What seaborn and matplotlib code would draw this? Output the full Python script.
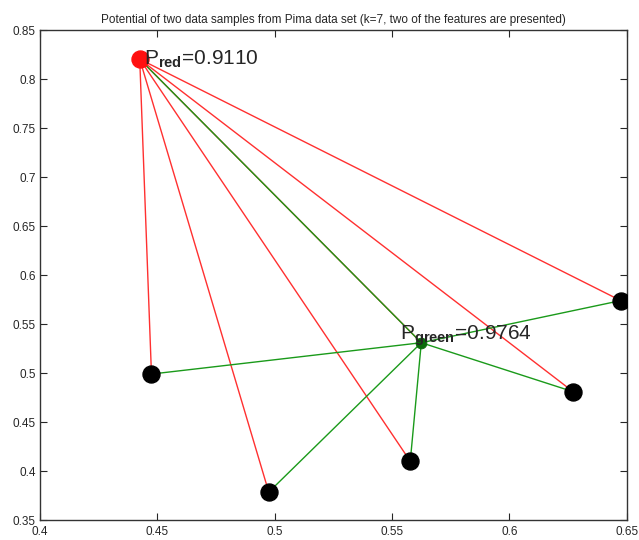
import matplotlib
matplotlib.use("Agg")
import matplotlib.pyplot as plt
import seaborn as sns
import pandas as pd

# Data
black_x = [0.4475, 0.4975, 0.5578, 0.6272, 0.6475]
black_y = [0.4990, 0.3785, 0.4100, 0.4810, 0.5740]
red_pt = (0.4425, 0.8205)
green_pt = (0.5625, 0.5310)
red_label = "0.9110"
green_label = "0.9764"
title = "Potential of two data samples from Pima data set (k=7, two of the features are presented)"

sns.set_style("ticks", {"xtick.direction": "in", "ytick.direction": "in"})
plt.rcParams['font.family'] = ['Liberation Sans', 'DejaVu Sans']
plt.rcParams['mathtext.fontset'] = 'custom'
plt.rcParams['mathtext.rm'] = 'Liberation Sans'
plt.rcParams['mathtext.bf'] = 'Liberation Sans:bold'

fig = plt.figure(figsize=(6.39, 5.40), dpi=100)
ax = fig.add_axes([0.0626, 0.037, 0.918, 0.907])

# lines from red point
for bx, by in zip(black_x + [green_pt[0]], black_y + [green_pt[1]]):
    seg = pd.DataFrame({"x": [red_pt[0], bx], "y": [red_pt[1], by]})
    sns.lineplot(data=seg, x="x", y="y", ax=ax, color="#ff3030", lw=1.0, sort=False, zorder=2)
# lines from green point
for bx, by in zip(black_x + [red_pt[0]], black_y + [red_pt[1]]):
    seg = pd.DataFrame({"x": [green_pt[0], bx], "y": [green_pt[1], by]})
    sns.lineplot(data=seg, x="x", y="y", ax=ax, color="#1a9a1a", lw=1.0, sort=False, zorder=3)

sns.scatterplot(x=black_x, y=black_y, ax=ax, color="black", s=150, edgecolor="black", zorder=5)
sns.scatterplot(x=[red_pt[0]], y=[red_pt[1]], ax=ax, color="#ff1010", s=150, edgecolor="#ff1010", zorder=5)
sns.scatterplot(x=[green_pt[0]], y=[green_pt[1]], ax=ax, color="#0a6a0a", s=60, edgecolor="#0a6a0a", zorder=5)

ax.text(red_pt[0] + 0.002, red_pt[1], r"P$_{\mathbf{red}}$=" + red_label, fontsize=15,
        va="center", ha="left", zorder=6)
ax.text(green_pt[0] - 0.009, green_pt[1] + 0.007, r"P$_{\mathbf{green}}$=" + green_label, fontsize=15,
        va="center", ha="left", zorder=6)

ax.set_xlim(0.4, 0.65)
ax.set_ylim(0.35, 0.85)
ax.set_xticks([0.4, 0.45, 0.5, 0.55, 0.6, 0.65])
ax.set_xticklabels(["0.4", "0.45", "0.5", "0.55", "0.6", "0.65"])
ax.set_yticks([0.35, 0.4, 0.45, 0.5, 0.55, 0.6, 0.65, 0.7, 0.75, 0.8, 0.85])
ax.set_yticklabels(["0.35", "0.4", "0.45", "0.5", "0.55", "0.6", "0.65", "0.7", "0.75", "0.8", "0.85"])
ax.tick_params(labelsize=8.5, length=5, top=True, right=True, direction="in")
ax.tick_params(axis="x", pad=4)
ax.tick_params(axis="y", pad=3)
ax.set_xlabel("")
ax.set_ylabel("")
for s in ax.spines.values():
    s.set_visible(True)
    s.set_linewidth(1.0)
    s.set_color("#333333")
ax.set_title(title, fontsize=8.5, pad=5)

fig.savefig("out.png", dpi=100)
